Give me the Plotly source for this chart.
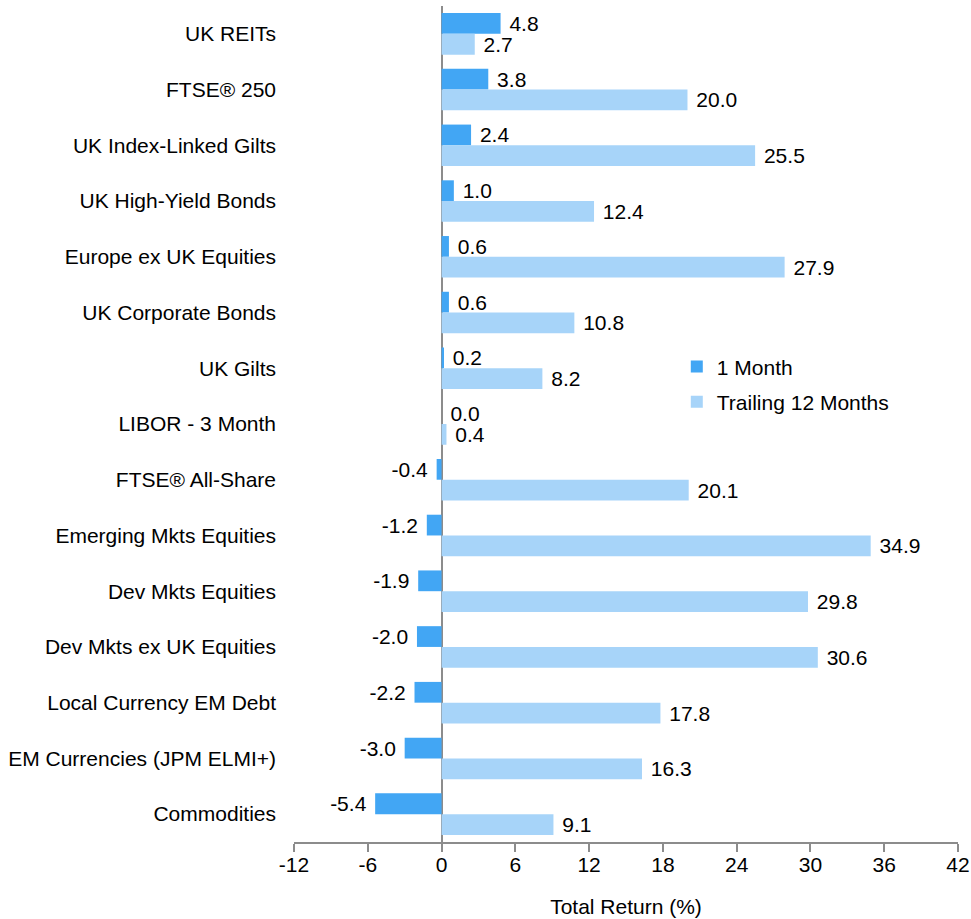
import plotly.graph_objects as go

categories = ["UK REITs", "FTSE® 250", "UK Index-Linked Gilts", "UK High-Yield Bonds",
              "Europe ex UK Equities", "UK Corporate Bonds", "UK Gilts", "LIBOR - 3 Month",
              "FTSE® All-Share", "Emerging Mkts Equities", "Dev Mkts Equities",
              "Dev Mkts ex UK Equities", "Local Currency EM Debt", "EM Currencies (JPM ELMI+)",
              "Commodities"]
one_month = [4.8, 3.8, 2.4, 1.0, 0.6, 0.6, 0.2, 0.0, -0.4, -1.2, -1.9, -2.0, -2.2, -3.0, -5.4]
trailing_12 = [2.7, 20.0, 25.5, 12.4, 27.9, 10.8, 8.2, 0.4, 20.1, 34.9, 29.8, 30.6, 17.8, 16.3, 9.1]
x_ticks = [-12, -6, 0, 6, 12, 18, 24, 30, 36, 42]

FONT = "Liberation Sans, Arial, sans-serif"
FS = 21
C1 = "#42A6F4"
C2 = "#A7D4F9"

def labels(vals):
    return [("\u00a0%.1f" % v) if v >= 0 else ("%.1f\u00a0" % v) for v in vals]

fig = go.Figure()
fig.add_trace(go.Bar(
    y=categories, x=one_month, orientation="h", name="1 Month",
    marker=dict(color=C1, line=dict(width=0)),
    text=labels(one_month), textposition="outside", cliponaxis=False,
    constraintext="none",
    textfont=dict(family=FONT, size=FS, color="#000000"),
    legendgroup="a",
))
fig.add_trace(go.Bar(
    y=categories, x=trailing_12, orientation="h", name="Trailing 12 Months",
    marker=dict(color=C2, line=dict(width=0)),
    text=labels(trailing_12), textposition="outside", cliponaxis=False,
    constraintext="none",
    textfont=dict(family=FONT, size=FS, color="#000000"),
    legendgroup="b",
))

fig.update_layout(
    width=971, height=919,
    margin=dict(l=294, r=13, t=6, b=77, autoexpand=False),
    paper_bgcolor="white", plot_bgcolor="white",
    barmode="group", bargap=0.255, bargroupgap=0,
    font=dict(family=FONT, size=FS, color="#000000"),
    showlegend=True,
    legend=dict(x=0.5765, y=0.593, xanchor="left", yanchor="top",
                traceorder="grouped", tracegroupgap=5,
                font=dict(family=FONT, size=FS, color="#000000"),
                bgcolor="rgba(0,0,0,0)"),
    uniformtext=dict(mode=False),
)
fig.update_xaxes(
    range=[-12, 42], tickvals=x_ticks, ticktext=[str(v) for v in x_ticks],
    showgrid=False, zeroline=True, zerolinecolor="#8C8C8C", zerolinewidth=2,
    showline=True, linecolor="#8C8C8C", linewidth=2,
    ticks="outside", ticklen=8, tickwidth=2, tickcolor="#8C8C8C",
    ticklabelstandoff=-5, automargin=False, ticklabeloverflow="allow",
    tickfont=dict(family=FONT, size=FS, color="#000000"),
    title=dict(text="Total Return (%)", font=dict(family=FONT, size=FS, color="#000000"), standoff=24),
    fixedrange=True,
)
fig.update_yaxes(
    autorange="reversed", showgrid=False, zeroline=False, showline=False,
    ticks="", ticklabelstandoff=17, automargin=False,
    tickfont=dict(family=FONT, size=FS, color="#000000"),
    fixedrange=True,
)

fig.write_html("out.html")
